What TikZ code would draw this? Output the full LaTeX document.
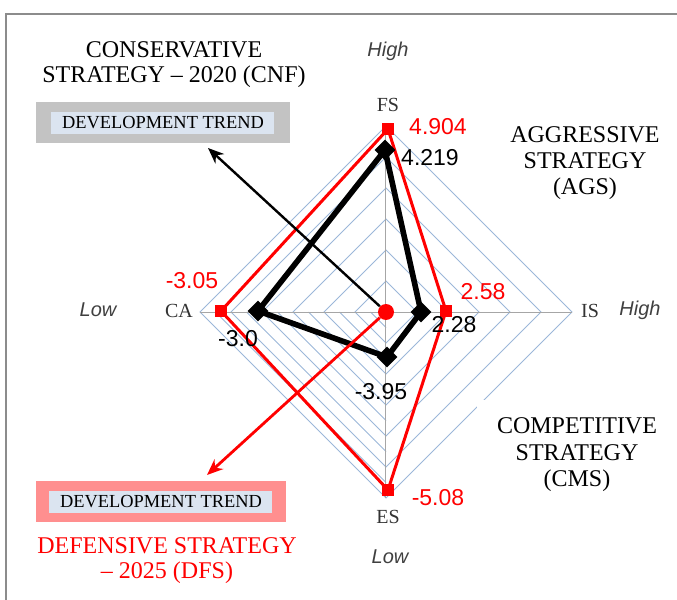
\documentclass[tikz,border=0pt]{standalone}
\usepackage{fontspec}
\setmainfont{Liberation Serif}
\newfontfamily\arialfont{Liberation Sans}
\usepackage{xcolor}
\usepackage{tikz}
\usetikzlibrary{calc}
\usetikzlibrary{arrows.meta,positioning}
\usetikzlibrary{shapes.geometric}
\definecolor{gridblue}{HTML}{9BB7D9}
\definecolor{axisgray}{HTML}{A6A6A6}
\definecolor{framegray}{HTML}{8C8C8C}
\definecolor{boxgray}{HTML}{C3C3C3}
\definecolor{boxpink}{HTML}{FF8F8F}
\definecolor{trendblue}{HTML}{DBE4F0}
\definecolor{lowhigh}{HTML}{404040}

\begin{document}
\begin{tikzpicture}[x=0.5pt,y=-0.5pt,
	val/.style={font=\arialfont\fontsize{11.5}{12}\selectfont},
	axislbl/.style={font=\fontsize{10}{11}\selectfont,text=black!80},
	lohi/.style={font=\arialfont\itshape\fontsize{10}{11}\selectfont,text=lowhigh},
	strat/.style={font=\fontsize{12}{12.5}\selectfont,align=center},
	trend/.style={fill=trendblue,font=\fontsize{9.2}{10}\selectfont,minimum width=111.5pt,minimum height=11pt,inner sep=0pt},
	redsq/.style={rectangle,fill=red,minimum size=6pt,inner sep=0pt},
	blkdia/.style={diamond,fill=black,minimum size=10.5pt,inner sep=0pt}]
	\useasboundingbox (0,0) rectangle (677,600);
	\draw[framegray,line width=1.3pt] (6,600) -- (6,14) -- (677,14);
	% radar grid
	\foreach \r in {31,62,...,186}
		\draw[gridblue,line width=0.5pt] (386,312-\r) -- (386+\r,312) -- (386,312+\r) -- (386-\r,312) -- cycle;
	\foreach \r in {15.5,46.5,...,170.5}
		\draw[gridblue,line width=0.5pt] (386-\r,312) -- (386,312+\r);
	\draw[axisgray,line width=0.5pt] (200,312) -- (572,312);
	\draw[axisgray,line width=0.5pt] (386,126) -- (386,498);
	% 2025 series
	\coordinate (rFS) at (388,129);
	\coordinate (rIS) at (446,311);
	\coordinate (rES) at (388,490);
	\coordinate (rCA) at (221,311);
	\draw[red,line width=1.5pt] (rFS) -- (rIS) -- (rES) -- (rCA) -- cycle;
	% 2020 series
	\coordinate (bFS) at (385,150);
	\coordinate (bIS) at (421,312);
	\coordinate (bES) at (387,357);
	\coordinate (bCA) at (258,311);
	\draw[black,line width=2.8pt] (bFS) -- (bIS) -- (bES) -- (bCA) -- cycle;
	\foreach \p in {rFS,rIS,rES,rCA}
		\node[redsq] at (\p) {};
	\foreach \p in {bFS,bIS,bES,bCA}
		\node[blkdia] at (\p) {};
	\node[circle,fill=red,minimum size=8pt,inner sep=0pt] (ctr) at (386,312) {};
	% axis names
	\node[axislbl] (fs) at (388,105) {FS};
	\node[axislbl] (is) at (590,311) {IS};
	\node[axislbl] (es) at (388,517) {ES};
	\node[axislbl] (ca) at (179,311) {CA};
	\node[lohi] (hightop) at (388,51) {High};
	\node[lohi] (highright) at (640,310) {High};
	\node[lohi] (lowleft) at (98,310) {Low};
	\node[lohi] (lowbottom) at (390,557) {Low};
	% values
	\node[val,red] (vFSr) at (438,127) {4.904};
	\node[val] (vFSb) at (430,158) {4.219};
	\node[val,red] (vCAr) at (192,281) {-3.05};
	\node[val] (vCAb) at (238,339) {-3.0};
	\node[val,red] (vISr) at (483,292) {2.58};
	\node[val] (vISb) at (454,325) {2.28};
	\node[val] (vESb) at (381,392) {-3.95};
	\node[val,red] (vESr) at (438,498) {-5.08};
	% strategies
	\node[strat] (cnf) at (174,65) {CONSERVATIVE\\STRATEGY -- 2020 (CNF)};
	\node[strat,font=\fontsize{12}{13}\selectfont] (ags) at (585,163) {AGGRESSIVE\\STRATEGY\\(AGS)};
	\node[strat,font=\fontsize{12}{13.2}\selectfont,fill=white,inner xsep=10pt,inner ysep=9pt] (cms) at (577,455) {COMPETITIVE\\STRATEGY\\(CMS)};
	\node[strat,red] (dfs) at (167,561) {DEFENSIVE STRATEGY\\-- 2025 (DFS)};
	\node[fill=boxgray,minimum width=127pt,minimum height=20.5pt,inner sep=0pt] (cnfbox) at (163,122.5) {};
	\node[trend] (cnftrend) at (cnfbox) {DEVELOPMENT TREND};
	\node[fill=boxpink,minimum width=125pt,minimum height=20.5pt,inner sep=0pt] (dfsbox) at (161,501.5) {};
	\node[trend] (dfstrend) at (dfsbox) {DEVELOPMENT TREND};
	% trends
	\coordinate (cnfhead) at (208,148);
	\coordinate (dfshead) at (207,475);
	\draw[-{Stealth[length=8pt,width=6.5pt]},line width=1.2pt] (ctr) -- (cnfhead);
	\draw[red,-{Stealth[length=8pt,width=6.5pt]},line width=1.4pt] (ctr) -- (dfshead);
\end{tikzpicture}
\end{document}
